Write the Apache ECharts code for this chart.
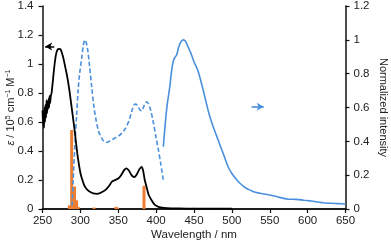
<!DOCTYPE html>
<html><head><meta charset="utf-8">
<script src="https://cdn.jsdelivr.net/npm/echarts@6/dist/echarts.min.js"></script>
<style>html,body{margin:0;padding:0;background:#fff}#c{width:391px;height:244px}</style>
</head><body><div id="c"></div>
<script>
// Absorption (left axis, ε / 10^5 cm-1 M-1)
const absX = [250,250.7,251.3,252,252.7,253.3,254,254.7,255.3,256,256.7,257.3,258,258.7,259.3,260,261,262,264,266,268,270,272,274,276,278,280,282,284,286,288,290,292,294,296,298,300,302,305,308,312,317,322,326,330,334,338,342,346,350,354,358,361,364,368,371,374,378,381,383,385,387.5,390,394,398,403,410,420,440,470,500];
const absY = [0.68,0.58,0.66,0.56,0.7,0.6,0.72,0.63,0.75,0.66,0.74,0.69,0.76,0.7,0.78,0.73,0.78,0.8,0.9,1.0,1.07,1.1,1.105,1.1,1.07,1.03,0.98,0.93,0.87,0.8,0.72,0.64,0.56,0.47,0.38,0.31,0.25,0.21,0.165,0.14,0.12,0.108,0.105,0.11,0.12,0.135,0.16,0.19,0.2,0.21,0.235,0.27,0.28,0.265,0.23,0.22,0.235,0.275,0.29,0.26,0.2,0.15,0.1,0.06,0.03,0.015,0.008,0.005,0.003,0.002,0.002];
// Calculated transitions (left axis)
const stickX = [285.5,288.5,292.3,295,297,318,347,349,384,414,450];
const stickY = [0.025,0.545,0.155,0.06,0.015,0.01,0.015,0.01,0.16,0.008,0.008];
// Excitation (right axis, dashed)
const excX = [289,290.5,293,295,297,299,302,304,306,308,310,312,315,318,321,324,328,331,335,340,345,350,355,360,364,368,372,375,378,381,384,387.5,390,393,396,400,403,406,409.5];
const excY = [0.02,0.17,0.4,0.55,0.7,0.8,0.9,0.97,1.0,0.98,0.93,0.85,0.72,0.6,0.52,0.46,0.42,0.4,0.394,0.405,0.418,0.43,0.45,0.48,0.52,0.58,0.62,0.615,0.59,0.58,0.61,0.634,0.62,0.58,0.52,0.42,0.35,0.27,0.17];
// Emission (right axis, solid)
const emX = [409.5,411,413,415,418,420,422,424,427,430,433,436,439,442,446,450,455,460,465,470,475,480,485,490,495,500,505,510,515,520,525,530,537,545,550,560,568,575,585,595,603,612,620,630,640,650];
const emY = [0.368,0.45,0.55,0.63,0.72,0.8,0.86,0.89,0.91,0.96,0.99,1.0,0.99,0.96,0.92,0.87,0.82,0.74,0.65,0.56,0.49,0.43,0.37,0.31,0.25,0.21,0.18,0.155,0.135,0.12,0.11,0.1,0.093,0.087,0.083,0.072,0.063,0.058,0.057,0.052,0.048,0.043,0.037,0.034,0.032,0.03];

const zip = (a,b) => a.map((v,i)=>[v,b[i]]);
const FONT = 'Liberation Sans, Arial, sans-serif';
const TXT = '#222';
const chart = echarts.init(document.getElementById('c'), null, {renderer:'canvas'});
const axLine = {show:true, lineStyle:{color:'#111', width:1.5}};
chart.setOption({
  animation:false,
  grid:{left:42.5, right:45.5, top:6, bottom:35, containLabel:false, outerBoundsMode:'none'},
  xAxis:[{
    type:'value', min:250, max:650, interval:50, position:'bottom',
    name:'Wavelength / nm', nameLocation:'middle', nameGap:20, nameMoveOverlap:false,
    nameTextStyle:{fontFamily:FONT, fontSize:11.5, color:TXT},
    axisLine:axLine, axisTick:{show:true, inside:false, length:4, lineStyle:{color:'#111', width:1.2}},
    axisLabel:{margin:6, fontFamily:FONT, fontSize:11.5, color:TXT},
    splitLine:{show:false}
  },{
    type:'value', min:250, max:650, position:'top',
    axisLine:axLine, axisTick:{show:false}, axisLabel:{show:false}, splitLine:{show:false}
  }],
  yAxis:[{
    type:'value', min:0, max:1.4, interval:0.2, position:'left',
    name:'{i|ε} / 10{s|5} cm{s|−1} M{s|−1}', nameLocation:'middle', nameGap:25, nameRotate:90,
    nameMoveOverlap:false,
    nameTextStyle:{fontFamily:FONT, fontSize:11, color:TXT,
      rich:{i:{fontStyle:'italic', fontFamily:FONT, fontSize:11, color:TXT},
            s:{fontFamily:FONT, fontSize:7, color:TXT, verticalAlign:'top', padding:[0,0,6,0]}}},
    axisLine:axLine, axisTick:{show:true, inside:false, length:4, lineStyle:{color:'#111', width:1.2}},
    axisLabel:{margin:9, fontFamily:FONT, fontSize:11.5, color:TXT},
    splitLine:{show:false}
  },{
    type:'value', min:0, max:1.2, interval:0.2, position:'right',
    name:'Normalized intensity', nameLocation:'middle', nameGap:32, nameRotate:-90,
    nameMoveOverlap:false,
    nameTextStyle:{fontFamily:FONT, fontSize:11, color:TXT},
    axisLine:axLine, axisTick:{show:true, inside:false, length:4, lineStyle:{color:'#111', width:1.2}},
    axisLabel:{margin:8, fontFamily:FONT, fontSize:11.5, color:TXT},
    splitLine:{show:false}
  }],
  series:[
    {type:'bar', xAxisIndex:0, yAxisIndex:0, data:zip(stickX, stickY), barWidth:3,
     itemStyle:{color:'#ED7D31'}, z:1},
    {type:'line', xAxisIndex:0, yAxisIndex:1, data:zip(excX, excY), smooth:0.3, showSymbol:false,
     lineStyle:{color:'#4A90DC', width:1.6, type:[4.5,2.5]}, z:2},
    {type:'line', xAxisIndex:0, yAxisIndex:1, data:zip(emX, emY), smooth:0.3, showSymbol:false,
     lineStyle:{color:'#4A90DC', width:1.6}, z:2,
     markLine:{silent:true, symbol:['none','arrow'], symbolSize:[6,7], label:{show:false},
       lineStyle:{color:'#4A90DC', width:1.6, type:'solid'},
       data:[[{coord:[526,0.605]},{coord:[542,0.605]}]]}},
    {type:'line', xAxisIndex:0, yAxisIndex:0, data:zip(absX, absY), smooth:0.2, showSymbol:false,
     lineStyle:{color:'#000', width:1.8}, z:3,
     markLine:{silent:true, symbol:['none','arrow'], symbolSize:[6,7], label:{show:false},
       lineStyle:{color:'#000', width:1.5, type:'solid'},
       data:[[{coord:[265.5,1.12]},{coord:[253.5,1.12]}]]}}
  ]
});
</script></body></html>
